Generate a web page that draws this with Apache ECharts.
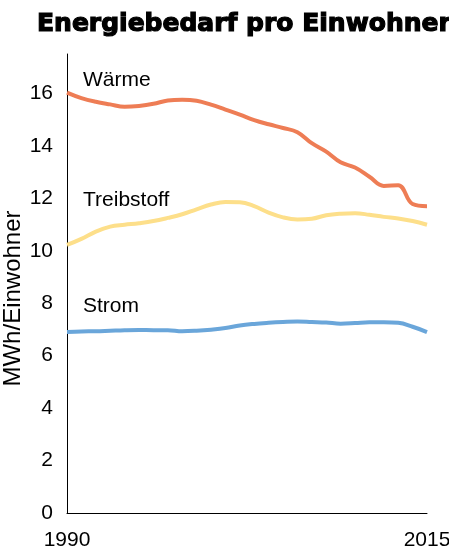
<!DOCTYPE html>
<html>
<head>
<meta charset="utf-8">
<script src="https://cdn.jsdelivr.net/npm/echarts@6/dist/echarts.min.js"></script>
<style>
html,body{margin:0;padding:0;background:#fff;}
#chart{width:449px;height:548px;}
</style>
</head>
<body>
<div id="chart"></div>
<script>
const years = ['1990','1991','1992','1993','1994','1995','1996','1997','1998','1999','2000','2001','2002','2003','2004','2005','2006','2007','2008','2009','2010','2011','2012','2013','2014','2015'];
const waerme = [16.03,15.82,15.68,15.58,15.49,15.52,15.60,15.73,15.76,15.72,15.57,15.38,15.19,14.98,14.82,14.68,14.52,14.10,13.78,13.37,13.17,12.82,12.47,12.50,11.78,11.70];
const treibstoff = [10.22,10.45,10.73,10.92,10.99,11.05,11.13,11.25,11.39,11.58,11.76,11.86,11.85,11.70,11.45,11.27,11.19,11.22,11.35,11.41,11.43,11.37,11.29,11.23,11.13,10.99];
const strom = [6.90,6.92,6.93,6.95,6.97,6.98,6.97,6.97,6.93,6.95,6.99,7.05,7.15,7.21,7.25,7.28,7.30,7.28,7.26,7.22,7.24,7.27,7.27,7.25,7.10,6.90];
const seriesNames = ['Wärme','Treibstoff','Strom'];
const yTicks = [0,2,4,6,8,10,12,14,16];

const font = '"Liberation Sans", Arial, sans-serif';
const chart = echarts.init(document.getElementById('chart'), null, {renderer:'canvas'});
function line(name, data, color){
  return {name, type:'line', data, smooth:0.4, symbol:'none',
    lineStyle:{color, width:4}, itemStyle:{color}};
}
chart.setOption({
  animation:false,
  title:{text:'Energiebedarf pro Einwohner', left:32, top:7,
    textStyle:{fontFamily:'"DejaVu Sans", sans-serif', fontWeight:'bold', fontSize:25, color:'#000',
      textBorderColor:'#000', textBorderWidth:1.2}},
  grid:{left:67, right:22, top:54, bottom:35, containLabel:false, outerBoundsMode:'none'},
  xAxis:{type:'category', data:years, boundaryGap:false,
    axisLine:{lineStyle:{color:'#000', width:1}}, axisTick:{show:false},
    axisLabel:{interval:24, color:'#000', fontFamily:font, fontSize:21, margin:17}},
  yAxis:{type:'value', min:0, max:17.5, interval:2,
    name:'MWh/Einwohner', nameLocation:'middle', nameGap:42, nameRotate:90, nameMoveOverlap:false,
    nameTextStyle:{color:'#000', fontFamily:font, fontSize:24, padding:[0,30,0,0]},
    axisLine:{show:true, lineStyle:{color:'#000', width:1}}, axisTick:{show:false},
    splitLine:{show:false},
    axisLabel:{color:'#000', fontFamily:font, fontSize:21, margin:14, showMaxLabel:false,
      formatter:v => yTicks.includes(v) ? String(v) : ''}},
  graphic:[
    {type:'text', left:83, top:70, style:{text:seriesNames[0], fontFamily:font, fontSize:21, fill:'#000'}},
    {type:'text', left:83, top:190, style:{text:seriesNames[1], fontFamily:font, fontSize:21, fill:'#000'}},
    {type:'text', left:83, top:296, style:{text:seriesNames[2], fontFamily:font, fontSize:21, fill:'#000'}}
  ],
  series:[
    line(seriesNames[0], waerme, '#EE7D55'),
    line(seriesNames[1], treibstoff, '#FDDF8A'),
    line(seriesNames[2], strom, '#6AA6DA')
  ]
});
</script>
</body>
</html>
